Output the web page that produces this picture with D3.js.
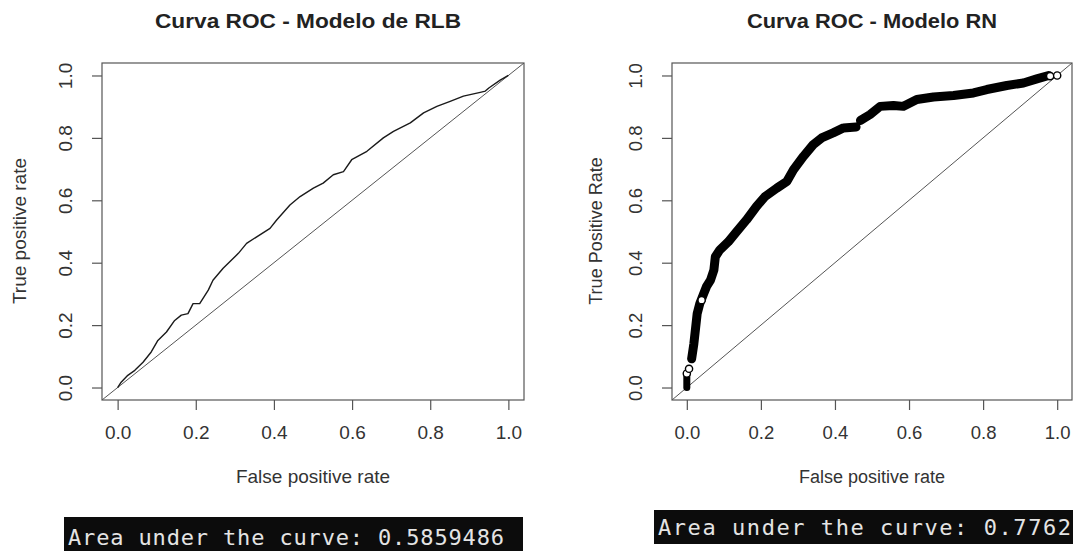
<!DOCTYPE html>
<html>
<head>
<meta charset="utf-8">
<script src="https://cdn.jsdelivr.net/npm/d3@7"></script>
<style>
  html, body { margin: 0; padding: 0; background: #fff; }
  svg { display: block; }
  text { font-family: "Liberation Sans", Arial, sans-serif; fill: #333; }
</style>
</head>
<body>
<div id="chart"></div>
<script>
// tick values shared by both panels
var tickVals = [0, 0.2, 0.4, 0.6, 0.8, 1.0];

// left panel: logistic regression ROC
var rlbFpr = [0, .009, .026, .044, .065, .086, .103, .125, .146, .163, .180, .193, .210, .232, .244, .270, .287, .309, .330, .356,
              .390, .407, .441, .467, .501, .526, .552, .578, .599, .638, .680, .706, .749, .783, .817, .851, .885, .928, .941, .950, .979, 1.0];
var rlbTpr = [0, .017, .039, .055, .081, .114, .151, .178, .215, .232, .237, .269, .269, .312, .344, .382, .403, .430, .462, .483,
              .510, .537, .585, .612, .639, .655, .682, .692, .730, .757, .800, .821, .848, .880, .901, .917, .934, .946, .950, .960, .985, 1.0];

// right panel: neural net ROC (null = gap in the band)
var rnFpr = [.013, .019, .024, .028, .035, .044, .053, .064, .073, .077, .089, .112, .134, .161, .188, .211, .243, .270, .288, .315,
             .341, .364, .395, .423, .457, null, .469, .495, .522, .558, .585, .621, .666, .720, .774, .810, .864, .909, .945, .977];
var rnTpr = [.092, .140, .194, .237, .269, .296, .323, .344, .376, .419, .441, .467, .499, .537, .580, .612, .639, .660, .698, .741,
             .778, .800, .816, .832, .835, null, .856, .875, .901, .904, .901, .923, .931, .936, .944, .955, .968, .976, .989, 1.0];
// short run of points at the very start
var rnStubFpr = [0, 0];
var rnStubTpr = [0, .045];
// isolated open circles
var rnOpenFpr = [0, .006, .040, .981, 1.0];
var rnOpenTpr = [.045, .060, .280, .998, 1.0];

var aucLeft = 'Area under the curve: 0.5859486';
var aucRight = 'Area under the curve: 0.7762';

var svg = d3.select('#chart').append('svg')
    .attr('width', 1084)
    .attr('height', 551);

function zip(xs, ys) {
    return xs.map(function(v, i){ return { x: v, y: ys[i] }; });
}

function drawPanel(cfg) {
    var x = d3.scaleLinear().domain([-0.04, 1.04]).range([cfg.left, cfg.right]);
    var y = d3.scaleLinear().domain([-0.04, 1.04]).range([400, 63]);
    var g = svg.append('g');

    var clipId = 'clip' + cfg.id;
    svg.append('clipPath').attr('id', clipId)
        .append('rect')
        .attr('x', cfg.left).attr('y', 63)
        .attr('width', cfg.right - cfg.left).attr('height', 337);

    // diagonal reference line across the whole plot region
    g.append('line')
        .attr('clip-path', 'url(#' + clipId + ')')
        .attr('x1', x(-0.04)).attr('y1', y(-0.04))
        .attr('x2', x(1.04)).attr('y2', y(1.04))
        .attr('stroke', '#555').attr('stroke-width', 1);

    cfg.drawCurve(g, x, y, clipId);

    // box
    g.append('rect')
        .attr('x', cfg.left).attr('y', 63)
        .attr('width', cfg.right - cfg.left).attr('height', 337)
        .attr('fill', 'none').attr('stroke', '#555').attr('stroke-width', 1.2);

    // x axis
    var xa = g.append('g')
        .attr('transform', 'translate(0,400)')
        .call(d3.axisBottom(x).tickValues(tickVals).tickSize(10).tickFormat(d3.format('.1f')));
    xa.select('.domain').remove();
    xa.selectAll('line').attr('stroke', '#555').attr('stroke-width', 1.2);
    xa.selectAll('text')
        .attr('y', 39).attr('dy', 0)
        .style('font-size', cfg.tickFont + 'px')
        .style('font-family', '"Liberation Sans", Arial, sans-serif')
        .attr('fill', '#333');

    // y axis, R style rotated labels
    var ya = g.append('g')
        .attr('transform', 'translate(' + cfg.left + ',0)')
        .call(d3.axisLeft(y).tickValues(tickVals).tickSize(10).tickFormat(d3.format('.1f')));
    ya.select('.domain').remove();
    ya.selectAll('line').attr('stroke', '#555').attr('stroke-width', 1.2);
    ya.selectAll('text')
        .attr('transform', 'rotate(-90)')
        .attr('x', 0).attr('y', -30).attr('dy', 0)
        .attr('text-anchor', 'middle')
        .style('font-size', cfg.tickFont + 'px')
        .style('font-family', '"Liberation Sans", Arial, sans-serif')
        .attr('fill', '#333');

    // title
    svg.append('text')
        .attr('x', cfg.titleX).attr('y', 28)
        .attr('text-anchor', 'middle')
        .attr('textLength', cfg.titleLen).attr('lengthAdjust', 'spacingAndGlyphs')
        .style('font-size', '21px').style('font-weight', 'bold')
        .style('fill', '#222')
        .text(cfg.title);

    // axis labels
    svg.append('text')
        .attr('x', (cfg.left + cfg.right) / 2).attr('y', 483)
        .attr('text-anchor', 'middle')
        .style('font-size', cfg.labFont + 'px')
        .text('False positive rate');

    svg.append('text')
        .attr('transform', 'translate(' + cfg.yLabX + ',231) rotate(-90)')
        .attr('text-anchor', 'middle')
        .style('font-size', cfg.labFont + 'px')
        .text(cfg.yLab);

    // AUC console output
    svg.append('rect')
        .attr('x', cfg.auc.x).attr('y', cfg.auc.y)
        .attr('width', cfg.auc.w).attr('height', cfg.auc.h)
        .attr('fill', '#0c0c0c');
    svg.append('text')
        .attr('x', cfg.auc.tx).attr('y', cfg.auc.ty)
        .attr('textLength', cfg.auc.tl).attr('lengthAdjust', 'spacing')
        .style('font-family', '"DejaVu Sans Mono", "Liberation Mono", monospace')
        .style('font-size', '22px')
        .style('fill', '#e4e4e4')
        .text(cfg.auc.text);
}

drawPanel({
    id: 'L', left: 102, right: 524, tickFont: 19, labFont: 19,
    title: 'Curva ROC - Modelo de RLB', titleLen: 306, titleX: 308,
    yLab: 'True positive rate', yLabX: 26,
    auc: { x: 64, y: 517, w: 459, h: 40, tx: 68, ty: 545, tl: 436, text: aucLeft },
    drawCurve: function(g, x, y, clipId) {
        var line = d3.line().x(function(d){ return x(d.x); }).y(function(d){ return y(d.y); });
        g.append('path')
            .datum(zip(rlbFpr, rlbTpr))
            .attr('d', line)
            .attr('fill', 'none')
            .attr('stroke', '#1a1a1a')
            .attr('stroke-width', 1.4)
            .attr('stroke-linejoin', 'round');
    }
});

drawPanel({
    id: 'R', left: 672, right: 1072, tickFont: 18.5, labFont: 18,
    title: 'Curva ROC - Modelo RN', titleLen: 250, titleX: 872,
    yLab: 'True Positive Rate', yLabX: 602,
    auc: { x: 654, y: 510, w: 419, h: 34, tx: 658, ty: 535, tl: 413, text: aucRight },
    drawCurve: function(g, x, y, clipId) {
        var line = d3.line()
            .defined(function(d){ return d.x != null; })
            .x(function(d){ return x(d.x); }).y(function(d){ return y(d.y); });
        g.append('path')
            .datum(zip(rnStubFpr, rnStubTpr))
            .attr('d', line)
            .attr('fill', 'none').attr('stroke', '#000')
            .attr('stroke-width', 7).attr('stroke-linecap', 'round');
        g.append('path')
            .datum(zip(rnFpr, rnTpr))
            .attr('d', line)
            .attr('fill', 'none').attr('stroke', '#000')
            .attr('stroke-width', 9)
            .attr('stroke-linecap', 'round').attr('stroke-linejoin', 'round');
        g.selectAll('circle.open')
            .data(zip(rnOpenFpr, rnOpenTpr))
            .enter().append('circle')
            .attr('class', 'open')
            .attr('cx', function(d){ return x(d.x); })
            .attr('cy', function(d){ return y(d.y); })
            .attr('r', 3.6)
            .attr('fill', '#fff')
            .attr('stroke', '#000')
            .attr('stroke-width', 1.4);
    }
});
</script>
</body>
</html>
